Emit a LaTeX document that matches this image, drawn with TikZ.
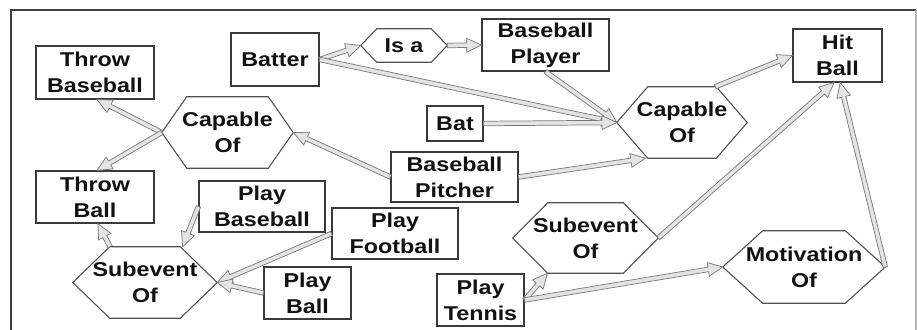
\documentclass[tikz,border=0pt]{standalone}
\usepackage{fontspec}
\setmainfont{Liberation Sans}[FakeStretch=1.165]
\usetikzlibrary{calc}

\definecolor{boxline}{HTML}{3A3A3A}
\definecolor{hexedge}{HTML}{505050}
\definecolor{arrline}{HTML}{7A7A7A}
\definecolor{arrfill}{HTML}{E4E4E4}
\definecolor{textc}{HTML}{111111}
\definecolor{frameL}{HTML}{404040}
\definecolor{frameR}{HTML}{B8B8B8}

\newcommand\labelfont{\fontsize{15pt}{19.5pt}\selectfont\bfseries}

\tikzset{
  boxst/.style={draw=boxline, line width=0.9pt, fill=white, inner sep=0pt,
                align=center, font=\labelfont, text=textc},
  hexst/.style={inner sep=0pt, align=center, font=\labelfont, text=textc},
  hexline/.style={draw=hexedge, line width=0.8pt},
  connst/.style={draw=arrline, line width=0.55pt, fill=arrfill, line join=miter},
}

% shaft half width, head half width, head length
\def\shw{1.7pt}
\def\hdw{5.2pt}
\def\hdl{11pt}

% rectangular label: name, x1, y1, x2, y2, text
\newcommand\boxnode[6]{%
  \node[boxst, minimum width={(#4-#2)*0.75pt}, minimum height={(#5-#3)*0.75pt}]
    (#1) at ({(#2+#4)/2},{(#3+#5)/2}) {#6};
}
% hexagonal label: name, x1, y1, x2, y2, slant, text
\newcommand\hexnode[7]{%
  \node[hexst, minimum width={(#4-#2)*0.75pt}, minimum height={(#5-#3)*0.75pt}]
    (#1) at ({(#2+#4)/2},{(#3+#5)/2}) {#7};
  \draw[hexline] (#1.west) -- ([xshift={#6*0.75pt}]#1.north west)
    -- ([xshift={-#6*0.75pt}]#1.north east) -- (#1.east)
    -- ([xshift={-#6*0.75pt}]#1.south east)
    -- ([xshift={#6*0.75pt}]#1.south west) -- cycle;
}
% hollow block arrow from #1 to #2
\newcommand\conn[2]{%
  \coordinate (ca) at #1;
  \coordinate (cb) at #2;
  \coordinate (ch) at ($(cb)!\hdl!(ca)$);
  \filldraw[connst] ($(ca)!\shw!90:(cb)$) -- ($(ch)!\shw!90:(cb)$)
    -- ($(ch)!\hdw!90:(cb)$) -- (cb) -- ($(ch)!\hdw!-90:(cb)$)
    -- ($(ch)!\shw!-90:(cb)$) -- ($(ca)!\shw!-90:(cb)$) -- cycle;
}

\begin{document}
\begin{tikzpicture}[x=0.75pt, y=-0.75pt]
  \path[use as bounding box] (0,0) rectangle (917,329);
  \clip (0,0) rectangle (917,329);

  % frame
  \draw[frameL, line width=1pt] (11,340) -- (11,10) -- (916,10);
  \draw[frameR, line width=0.8pt] (916,10) -- (916,340);

  % labels
  \boxnode{throwbase}{36}{46}{154}{99}{Throw\\Baseball}
  \boxnode{batter}{231}{33}{319}{86}{Batter}
  \hexnode{isa}{361}{29}{447}{62}{16}{Is a}
  \boxnode{bplayer}{482}{19}{609}{71}{Baseball\\Player}
  \boxnode{hitball}{793}{29}{882}{82}{Hit\\Ball}
  \hexnode{capL}{162}{97}{293}{168}{25}{Capable\\Of}
  \boxnode{bat}{427}{106}{483}{141}{Bat}
  \hexnode{capR}{617}{87}{747}{158}{31}{Capable\\Of}
  \boxnode{pitcher}{391}{152}{518}{202}{Baseball\\Pitcher}
  \boxnode{throwball}{36}{171}{154}{223}{Throw\\Ball}
  \boxnode{playbase}{199}{181}{325}{232}{Play\\Baseball}
  \boxnode{playfoot}{332}{208}{458}{259}{Play\\Football}
  \hexnode{subL}{73}{247}{217}{318}{37}{Subevent\\Of}
  \boxnode{playball}{264}{267}{351}{319}{Play\\Ball}
  \hexnode{subR}{513}{203}{658}{273}{35}{Subevent\\Of}
  \hexnode{motiv}{723}{231}{885}{303}{40}{Motivation\\Of}
  \boxnode{tennis}{437}{274}{524}{326}{Play\\Tennis}

  % connectors
  \conn{(capL.west)}{([xshift=1.5pt]throwbase.south)}
  \conn{(capL.west)}{([xshift=1.5pt]throwball.north)}
  \conn{(pitcher.west)}{(capL.east)}
  \conn{(pitcher.east)}{([xshift=21.5pt]capR.south west)}
  \conn{(batter.east)}{(isa.west)}
  \conn{(isa.east)}{(bplayer.west)}
  \conn{(batter.east)}{(capR.west)}
  \conn{(bplayer.south)}{(capR.west)}
  \conn{(bat.east)}{(capR.west)}
  \conn{([xshift=-24pt]capR.north east)}{(hitball.west)}
  \conn{(subR.east)}{([xshift=-2.6pt]hitball.south)}
  \conn{(motiv.east)}{([xshift=2pt]hitball.south)}
  \conn{(tennis.east)}{([xshift=26pt]subR.south west)}
  \conn{(tennis.east)}{(motiv.west)}
  \conn{(playbase.west)}{([xshift=-26pt]subL.north east)}
  \conn{(playfoot.west)}{(subL.east)}
  \conn{(playball.west)}{(subL.east)}
  \conn{([xshift=28pt]subL.north west)}{([xshift=2.2pt]throwball.south)}
\end{tikzpicture}
\end{document}
